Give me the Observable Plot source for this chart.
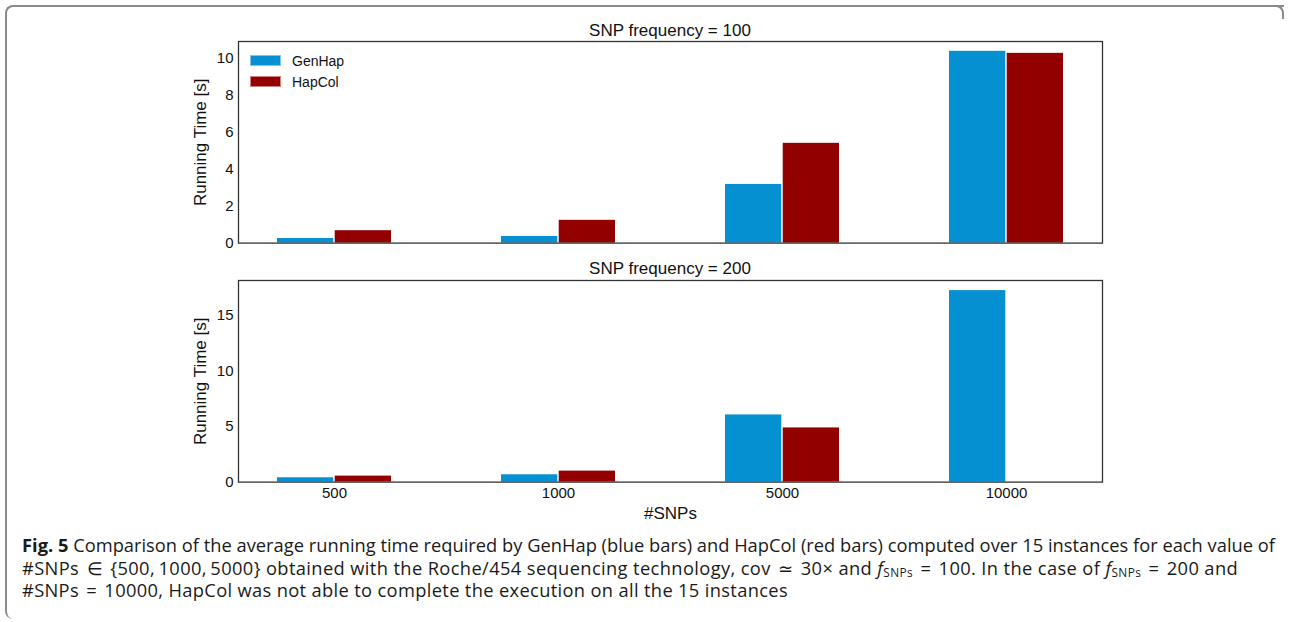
<!DOCTYPE html>
<html>
<head>
<meta charset="utf-8">
<script src="https://cdn.jsdelivr.net/npm/d3@7"></script>
<script src="https://cdn.jsdelivr.net/npm/@observablehq/plot@0.6"></script>
<style>
  html, body { margin: 0; padding: 0; background: #fff; }
  #page { position: relative; width: 1289px; height: 622px; overflow: hidden; background: #fff; }
  #borderL { position: absolute; left: 5px; top: 5px; width: 1279px; height: 614px;
    border-top: 2px solid #8a8a8a; border-left: 2px solid #8a8a8a;
    border-radius: 8px 0 0 8px; box-sizing: border-box; }
  #borderR { position: absolute; left: 1270px; top: 5px; width: 14px; height: 14px;
    border-top: 2px solid #8a8a8a; border-right: 2px solid #8a8a8a;
    border-radius: 0 8px 0 0; box-sizing: border-box; }
  .ptitle { position: absolute; left: 238px; width: 864px; text-align: center;
    font-family: "Liberation Sans", Arial, sans-serif; font-size: 17px; color: #111;
    height: 20px; line-height: 20px; }
  .panel { position: absolute; left: 0; }
  .panel svg { display: block; overflow: visible; }
  .panel g[aria-label="y-axis label"] text,
  .panel g[aria-label="x-axis label"] text { font-size: 17px; }
  #legend { position: absolute; left: 250px; top: 50px; font-family: "Liberation Sans", Arial, sans-serif;
    font-size: 14px; color: #111; }
  #legend .item { display: flex; align-items: center; height: 21px; }
  #legend .sw { width: 31px; height: 11px; box-sizing: border-box; margin-right: 11px; }
  #caption { position: absolute; left: 22px; top: 534px; font-family: "Open Sans", Lato, sans-serif;
    font-size: 17px; line-height: 22.5px; color: #1a1a1a; white-space: nowrap; }
  #caption .line { display: block; height: 22.5px; width: max-content; }
  #caption sub { font-size: 0.65em; line-height: 0; vertical-align: -0.2em; }
  #caption .op { margin: 0 0.12em; }
</style>
</head>
<body>
<div id="page">
  <div id="borderL"></div>
  <div id="borderR"></div>
  <div class="ptitle" id="t1" style="top:21px"></div>
  <div class="panel" id="p1" style="top:40px"></div>
  <div class="ptitle" id="t2" style="top:259px"></div>
  <div class="panel" id="p2" style="top:279px"></div>
  <div id="legend"></div>
  <div id="caption"><span class="line"><b>Fig. 5</b> Comparison of the average running time required by GenHap (blue bars) and HapCol (red bars) computed over 15 instances for each value of</span><span class="line">#SNPs <span class="op">∈</span> {500,&#8201;1000,&#8201;5000} obtained with the Roche/454 sequencing technology, cov <span class="op">≃</span> 30× and <i>f</i><sub>SNPs</sub> <span class="op">=</span> 100. In the case of <i>f</i><sub>SNPs</sub> <span class="op">=</span> 200 and</span><span class="line">#SNPs <span class="op">=</span> 10000, HapCol was not able to complete the execution on all the 15 instances</span></div>
</div>
<script>
const snps = ["500", "1000", "5000", "10000"];
const series = ["GenHap", "HapCol"];
const colors = ["#0590d2", "#930000"];
const legendBorders = ["#7fc4ea", "#d08080"];
const panelTitles = ["SNP frequency = 100", "SNP frequency = 200"];
const genhap100 = [0.25, 0.36, 3.17, 10.36];
const hapcol100 = [0.67, 1.23, 5.39, 10.25];
const genhap200 = [0.39, 0.66, 6.05, 17.25];
const hapcol200 = [0.54, 0.99, 4.88, null];
const yMax100 = 10.89;
const yMax200 = 18.16;
const yTicks100 = [0, 2, 4, 6, 8, 10];
const yTicks200 = [0, 5, 10, 15];
const yLabel = "Running Time [s]";
const xLabel = "#SNPs";

const W = 1289, ML = 238, MR = 187;
const PAD_IN = 0.49, PAD_OUT = 0.17;
const bandwidth = d3.scaleBand(snps, [ML, W - MR]).paddingInner(PAD_IN).paddingOuter(PAD_OUT).bandwidth();
const half = bandwidth / 2;

function rowsOf(gen, hap) {
  const rows = [];
  snps.forEach((s, i) => {
    if (gen[i] != null) rows.push({snp: s, series: series[0], value: gen[i]});
    if (hap[i] != null) rows.push({snp: s, series: series[1], value: hap[i]});
  });
  return rows;
}

function panel(gen, hap, ymax, ticks, showX) {
  const rows = rowsOf(gen, hap);
  const h = showX ? 245 : 206;
  const marks = [
    Plot.barY(rows, {filter: d => d.series === series[0], x: "snp", y: "value", fill: "series", insetLeft: 0, insetRight: half + 0.5}),
    Plot.barY(rows, {filter: d => d.series === series[1], x: "snp", y: "value", fill: "series", insetLeft: half + 0.5, insetRight: 0}),
    Plot.axisY({ticks, tickSize: 0, tickPadding: 5, fontSize: 15, label: yLabel, labelAnchor: "center", labelArrow: "none", labelOffset: 45}),
    Plot.frame({stroke: "#333", strokeWidth: 1.3})
  ];
  if (showX) marks.push(Plot.axisX({anchor: "bottom", tickSize: 0, tickPadding: 5, fontSize: 15, label: xLabel, labelAnchor: "center", labelArrow: "none", labelOffset: 37}));
  return Plot.plot({
    width: W,
    height: h,
    marginLeft: ML,
    marginRight: MR,
    marginTop: 1,
    marginBottom: h - 1 - 201.6,
    style: {fontFamily: "'Liberation Sans', Arial, sans-serif", fontSize: "15px", color: "#111", background: "transparent", overflow: "visible"},
    x: {domain: snps, paddingInner: PAD_IN, paddingOuter: PAD_OUT, axis: null},
    y: {domain: [0, ymax], axis: null},
    color: {domain: series, range: colors},
    marks
  });
}

document.getElementById("t1").textContent = panelTitles[0];
document.getElementById("t2").textContent = panelTitles[1];
document.getElementById("p1").appendChild(panel(genhap100, hapcol100, yMax100, yTicks100, false));
document.getElementById("p2").appendChild(panel(genhap200, hapcol200, yMax200, yTicks200, true));

const legend = document.getElementById("legend");
series.forEach((s, i) => {
  const item = document.createElement("div");
  item.className = "item";
  const sw = document.createElement("div");
  sw.className = "sw";
  sw.style.background = colors[i];
  sw.style.border = "1px solid " + legendBorders[i];
  const lab = document.createElement("span");
  lab.textContent = s;
  item.appendChild(sw);
  item.appendChild(lab);
  legend.appendChild(item);
});

// fit caption lines to the widths seen in the reference
const cap = document.getElementById("caption");
const lines = Array.from(cap.querySelectorAll(".line"));
const targets = [1253, 1216, 766];
const w0 = lines[0].getBoundingClientRect().width;
if (w0 > 0) cap.style.fontSize = (17 * 1253 / w0).toFixed(2) + "px";
lines.forEach((ln, i) => {
  const w = ln.getBoundingClientRect().width;
  const n = ln.textContent.length;
  if (w > 0 && n > 1) ln.style.letterSpacing = ((targets[i] - w) / n).toFixed(3) + "px";
});
</script>
</body>
</html>
